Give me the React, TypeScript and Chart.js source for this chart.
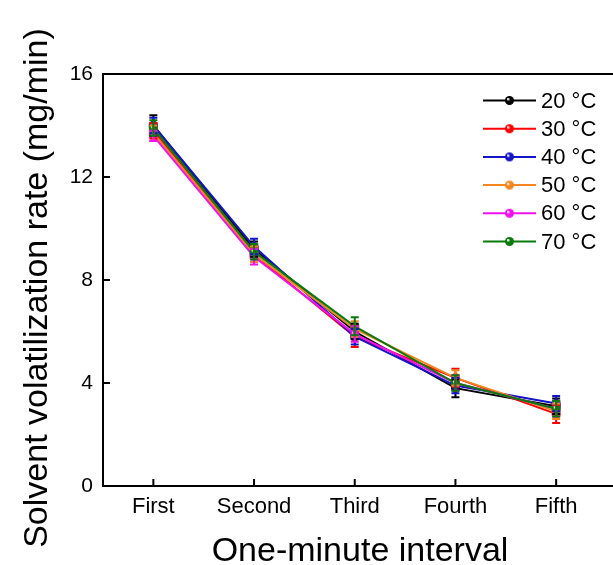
import React, { useEffect, useRef } from "react";
import { Chart, registerables } from "chart.js";

Chart.register(...registerables);

const categories = ["First", "Second", "Third", "Fourth", "Fifth"];
const seriesLabels = ["20 °C", "30 °C", "40 °C", "50 °C", "60 °C", "70 °C"];
const seriesColors = ["#000000", "#ff0000", "#1414c8", "#f5861f", "#f010f0", "#0a7a0a"];

const t20 = [14.0, 9.2, 6.0, 3.8, 3.1];
const t30 = [13.8, 9.0, 5.8, 4.2, 2.8];
const t40 = [14.0, 9.3, 5.8, 3.9, 3.2];
const t50 = [13.7, 9.0, 6.1, 4.2, 2.9];
const t60 = [13.6, 8.9, 5.9, 4.0, 3.0];
const t70 = [13.9, 9.1, 6.2, 4.0, 3.0];

const e20 = [0.4, 0.3, 0.3, 0.35, 0.3];
const e30 = [0.3, 0.3, 0.4, 0.35, 0.35];
const e40 = [0.3, 0.3, 0.3, 0.3, 0.3];
const e50 = [0.3, 0.3, 0.3, 0.3, 0.3];
const e60 = [0.2, 0.3, 0.3, 0.3, 0.3];
const e70 = [0.3, 0.3, 0.35, 0.3, 0.3];

const seriesValues = [t20, t30, t40, t50, t60, t70];
const seriesErrors = [e20, e30, e40, e50, e60, e70];

const yTicks = [0, 4, 8, 12, 16];
const xTitle = "One-minute interval";
const yTitle = "Solvent volatilization rate (mg/min)";

const FONT = "'Liberation Sans', Arial, sans-serif";

function makeBall(color: string, r: number): HTMLCanvasElement {
  const c = document.createElement("canvas");
  const s = Math.ceil(r * 2 + 2);
  c.width = s;
  c.height = s;
  const ctx = c.getContext("2d")!;
  const cx = s / 2;
  const g = ctx.createRadialGradient(cx - r * 0.35, cx - r * 0.35, r * 0.1, cx, cx, r);
  g.addColorStop(0, "#ffffff");
  g.addColorStop(0.35, color);
  g.addColorStop(1, color);
  ctx.fillStyle = g;
  ctx.beginPath();
  ctx.arc(cx, cx, r, 0, Math.PI * 2);
  ctx.fill();
  return c;
}

const errorBarPlugin = {
  id: "errorBars",
  afterDatasetsDraw(chart: any) {
    const ctx = chart.ctx;
    const x = chart.scales.x;
    const y = chart.scales.y;
    ctx.save();
    chart.data.datasets.forEach((ds: any, di: number) => {
      const errs = seriesErrors[di];
      ctx.strokeStyle = ds.borderColor;
      ctx.lineWidth = 2;
      ds.data.forEach((v: number, i: number) => {
        const px = x.getPixelForValue(i);
        const top = y.getPixelForValue(v + errs[i]);
        const bot = y.getPixelForValue(v - errs[i]);
        ctx.beginPath();
        ctx.moveTo(px, top);
        ctx.lineTo(px, bot);
        ctx.moveTo(px - 4, top);
        ctx.lineTo(px + 4, top);
        ctx.moveTo(px - 4, bot);
        ctx.lineTo(px + 4, bot);
        ctx.stroke();
      });
    });
    ctx.restore();
  },
};

const framePlugin = {
  id: "frame",
  afterDraw(chart: any) {
    const ctx = chart.ctx;
    const a = chart.chartArea;
    const x = chart.scales.x;
    const y = chart.scales.y;
    ctx.save();
    ctx.strokeStyle = "#000";
    ctx.lineWidth = 2;
    ctx.beginPath();
    ctx.moveTo(chart.width, a.top);
    ctx.lineTo(a.left, a.top);
    ctx.lineTo(a.left, a.bottom);
    ctx.lineTo(chart.width, a.bottom);
    ctx.stroke();
    ctx.beginPath();
    yTicks.forEach((t) => {
      const py = y.getPixelForValue(t);
      ctx.moveTo(a.left, py);
      ctx.lineTo(a.left + 7, py);
    });
    categories.forEach((_c, i) => {
      const px = x.getPixelForValue(i);
      ctx.moveTo(px, a.bottom);
      ctx.lineTo(px, a.bottom - 7);
    });
    ctx.stroke();

    // axis titles
    ctx.fillStyle = "#000";
    ctx.font = `34px ${FONT}`;
    ctx.textAlign = "center";
    ctx.textBaseline = "alphabetic";
    ctx.fillText(xTitle, (a.left + chart.width) / 2 + 2, 561);
    ctx.save();
    ctx.translate(47, 288);
    ctx.rotate(-Math.PI / 2);
    ctx.font = `34px ${FONT}`;
    ctx.fillText(yTitle, 0, 0);
    ctx.restore();

    // legend
    const lx0 = 483;
    const lx1 = 536;
    const ly0 = 100.5;
    const step = 28.2;
    ctx.font = `22px ${FONT}`;
    ctx.textAlign = "left";
    ctx.textBaseline = "middle";
    chart.data.datasets.forEach((ds: any, i: number) => {
      const ly = ly0 + i * step;
      ctx.strokeStyle = ds.borderColor;
      ctx.lineWidth = 2;
      ctx.beginPath();
      ctx.moveTo(lx0, ly);
      ctx.lineTo(lx1, ly);
      ctx.stroke();
      const img = ds.pointStyle as HTMLCanvasElement;
      ctx.drawImage(img, (lx0 + lx1) / 2 - img.width / 2, ly - img.height / 2);
      ctx.fillStyle = "#000";
      ctx.fillText(ds.label, 541, ly + 1);
    });
    ctx.restore();
  },
};

export default function App() {
  const ref = useRef<HTMLCanvasElement | null>(null);
  useEffect(() => {
    if (!ref.current) return;
    const datasets = seriesValues.map((vals, i) => ({
      label: seriesLabels[i],
      data: vals,
      borderColor: seriesColors[i],
      backgroundColor: seriesColors[i],
      borderWidth: 2,
      pointStyle: makeBall(seriesColors[i], 4.5),
      pointRadius: 4.5,
      order: seriesValues.length - i,
      tension: 0,
    }));
    const chart = new Chart(ref.current, {
      type: "line",
      data: { labels: categories, datasets },
      options: {
        responsive: false,
        animation: false,
        layout: { padding: { top: 74, right: 0, left: 0, bottom: 0 } },
        plugins: { legend: { display: false }, tooltip: { enabled: false } },
        scales: {
          x: {
            type: "category",
            offset: true,
            grid: { display: false },
            border: { display: false },
            ticks: { color: "#000", font: { size: 22, family: FONT }, padding: 0, maxRotation: 0 },
            afterFit: (s: any) => {
              s.height = 79;
            },
          },
          y: {
            min: 0,
            max: 16,
            grid: { display: false },
            border: { display: false },
            ticks: {
              stepSize: 4,
              color: "#000",
              font: { size: 21, family: FONT },
              padding: 2,
            },
            afterFit: (s: any) => {
              s.width = 103;
            },
          },
        },
      },
      plugins: [errorBarPlugin, framePlugin],
    });
    return () => chart.destroy();
  }, []);
  return (
    <div style={{ position: "absolute", left: 0, top: 0, width: 613, height: 565 }}>
      <canvas ref={ref} width={613} height={565} style={{ width: 613, height: 565 }} />
    </div>
  );
}
